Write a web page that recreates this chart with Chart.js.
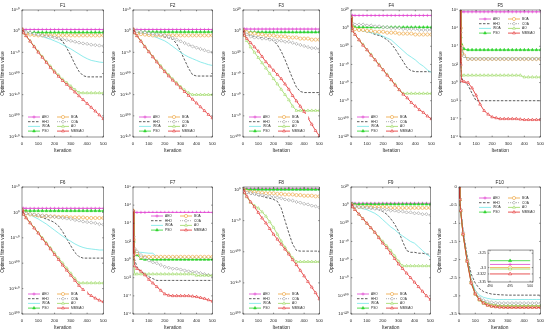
<!DOCTYPE html>
<html>
<head>
<meta charset="utf-8">
<script src="https://cdn.jsdelivr.net/npm/chart.js@4.4.0/dist/chart.umd.min.js"></script>
<style>
  body { margin: 0; background: #fff; width: 550px; height: 334px; position: relative; overflow: hidden; }
  canvas { position: absolute; }
</style>
</head>
<body>
<script>
// iterations sampled from the curves
const ITER = [0, 5, 10, 25, 50, 75, 100, 125, 150, 175, 200, 225, 250, 275, 300, 325, 350, 375, 400, 425, 450, 475, 500];
const X_TICKS = [0, 100, 200, 300, 400, 500];
const ALGOS = ['AEO', 'HHO', 'WOA', 'PSO', 'BOA', 'COA', 'AO', 'MMSIAO'];

// log10 of best fitness, per function and algorithm
const F1_AEO = [4,4,4,4,4,4,4,4,4,4,4,4,4,4,4,4,4,4,4,4,4,4,4];
const F1_HHO = [4,2,0,-3,-5,-6,-8,-10,-11,-13,-15,-17,-24,-40,-58,-78,-95,-105,-108,-108,-108,-108,-108];
const F1_WOA = [4,2,0,-2,-4,-7,-10,-13,-16,-19,-23,-27,-32,-37,-42,-48,-54,-60,-65,-69,-71,-73,-74];
const F1_PSO = [4,0,-2,-3,-3,-3,-3,-3,-3,-3,-3,-3,-3,-3,-3,-3,-3,-3,-3,-3,-3,-3,-3];
const F1_BOA = [4,0,-3,-6,-8,-9,-10,-10,-10,-10,-10,-10,-10,-10,-10,-10,-10,-10,-10,-10,-10,-10,-10];
const F1_COA = [4,1,0,-2,-4,-6,-8,-10,-12,-13,-15,-17,-19,-21,-23,-25,-27,-29,-30,-32,-33,-34,-35];
const F1_AO = [4,-1,-4,-11,-23,-36,-48,-60,-72,-83,-94,-104,-114,-122,-130,-138,-145,-146,-146,-146,-146,-146,-146];
const F1_MMSIAO = [4,-1,-4,-11,-24,-37,-50,-62,-74,-86,-97,-107,-117,-126,-135,-144,-153,-162,-171,-180,-189,-198,-207];

const F2_AEO = [4,4,4,4,4,4,4,4,4,4,4,4,4,4,4,4,4,4,4,4,4,4,4];
const F2_HHO = [4,1,-1,-3,-5,-6,-8,-9,-10,-12,-14,-16,-19,-30,-48,-68,-88,-103,-106,-106,-106,-106,-106];
const F2_WOA = [4,1,-1,-3,-5,-7,-9,-12,-15,-19,-23,-29,-36,-43,-50,-56,-61,-65,-69,-73,-76,-79,-81];
const F2_PSO = [4,0,-1,-2,-2,-2,-2,-2,-2,-2,-2,-2,-2,-2,-2,-2,-2,-2,-2,-2,-2,-2,-2];
const F2_BOA = [4,0,-3,-5,-7,-8,-9,-10,-10,-10,-10,-10,-10,-10,-10,-10,-10,-10,-10,-10,-10,-10,-10];
const F2_COA = [4,2,1,0,-2,-3,-5,-6,-7,-8,-10,-13,-16,-20,-24,-28,-32,-36,-39,-42,-45,-48,-50];
const F2_AO = [4,-1,-4,-11,-23,-36,-48,-60,-71,-82,-93,-103,-113,-122,-131,-139,-146,-150,-150,-150,-150,-150,-150];
const F2_MMSIAO = [4,-1,-4,-11,-24,-37,-49,-61,-73,-85,-96,-106,-116,-125,-134,-143,-152,-161,-170,-179,-188,-197,-205];

const F3_AEO = [1,2,2,2,2,2,2,2,2,2,2,2,2,2,2,2,2,2,2,2,2,2,2];
const F3_HHO = [1,-1,-2,-3,-4,-5,-6,-6,-7,-7,-9,-13,-19,-27,-36,-45,-53,-57,-58,-58,-58,-58,-58];
const F3_WOA = [1,-1,-1,-1,-1,-1,-1,-1,-1,-1,-1,-1,-1,-1,-1,-1,-1,-1,-1,-1,-1,-1,-1];
const F3_PSO = [1,-1,-1,-1,-1,-1,-1,-1,-1,-1,-1,-1,-1,-1,-1,-1,-1,-1,-1,-1,-1,-1,-1];
const F3_BOA = [1,0,-1,-1,-2,-2,-3,-3,-4,-4,-4,-5,-5,-5,-6,-6,-6,-7,-7,-7,-8,-8,-8];
const F3_COA = [1,-1,-2,-3,-5,-6,-6,-7,-7,-8,-8,-9,-9,-10,-10,-11,-12,-13,-14,-15,-16,-16,-17];
const F3_AO = [1,-2,-4,-9,-15,-20,-25,-30,-35,-40,-45,-50,-55,-60,-65,-71,-75,-75,-75,-75,-75,-75,-75];
const F3_MMSIAO = [1,-2,-4,-7,-11,-15,-19,-24,-29,-33,-37,-41,-45,-50,-55,-61,-66,-71,-76,-82,-88,-94,-99];

const F4_AEO = [13,14,14,14,14,14,14,14,14,14,14,14,14,14,14,14,14,14,14,14,14,14,14];
const F4_HHO = [12,3,1,-1,-2,-3,-4,-5,-7,-8,-10,-13,-17,-23,-30,-37,-44,-47,-48,-48,-48,-48,-48];
const F4_WOA = [12,3,1,-1,-2,-3,-4,-5,-6,-7,-9,-11,-13,-17,-21,-25,-29,-32,-35,-39,-42,-46,-49];
const F4_PSO = [12,3,2,1,1,1,1,1,1,1,1,1,1,1,1,1,1,1,1,1,1,1,1];
const F4_BOA = [12,2,0,-1,-2,-2,-3,-3,-4,-4,-4,-5,-5,-5,-6,-6,-6,-6,-7,-7,-7,-7,-7];
const F4_COA = [12,5,5,4,4,4,3,3,2,2,1,1,0,0,0,-1,-1,-1,-1,-2,-2,-2,-2];
const F4_AO = [12,0,-3,-7,-13,-18,-24,-29,-35,-40,-46,-51,-57,-62,-68,-72,-72,-72,-72,-72,-72,-72,-72];
const F4_MMSIAO = [12,0,-3,-7,-13,-19,-24,-30,-35,-41,-46,-52,-57,-63,-68,-73,-77,-82,-86,-90,-93,-97,-100];

const F5_AEO = [8,7.8,7.8,7.8,7.8,7.8,7.8,7.8,7.8,7.8,7.8,7.8,7.8,7.8,7.8,7.8,7.8,7.8,7.8,7.8,7.8,7.8,7.8];
const F5_HHO = [8,3,0.5,0.1,-0.3,-1.2,-2,-2,-2,-2,-2,-2,-2,-2,-2,-2,-2,-2,-2,-2,-2,-2,-2];
const F5_WOA = [8,5,3.8,2.8,2.7,2.7,2.7,2.7,2.7,2.7,2.7,2.7,2.7,2.7,2.7,2.7,2.7,2.7,2.7,2.7,2.7,2.7,2.7];
const F5_PSO = [8,5,4.2,3.7,3.6,3.6,3.6,3.6,3.6,3.6,3.6,3.6,3.6,3.6,3.6,3.6,3.6,3.6,3.6,3.6,3.6,3.6,3.6];
const F5_BOA = [8,6,4,3,2.6,2.6,2.6,2.6,2.6,2.6,2.6,2.6,2.6,2.6,2.6,2.6,2.6,2.6,2.6,2.6,2.6,2.6,2.6];
const F5_COA = [8,5.5,3.8,2.9,2.6,2.6,2.6,2.6,2.6,2.6,2.6,2.6,2.6,2.6,2.6,2.6,2.6,2.6,2.6,2.6,2.6,2.6,2.6];
const F5_AO = [8,3,0.8,0.8,0.8,0.8,0.8,0.8,0.8,0.8,0.8,0.8,0.8,0.8,0.8,0.8,0.8,0.8,0.6,0.6,0.6,0.6,0.6];
const F5_MMSIAO = [8,2,0.2,0.1,0,-0.6,-1.4,-2.4,-3.1,-3.5,-3.8,-3.9,-4,-4,-4,-4,-4,-4.05,-4.1,-4.1,-4.1,-4.1,-4.1];

const F6_AEO = [5,8,8,8,8,8,8,8,8,8,8,8,8,8,8,8,8,8,8,8,8,8,8];
const F6_HHO = [5,2,0,-2,-4,-6,-8,-10,-13,-16,-20,-27,-38,-52,-66,-79,-87,-90,-90,-90,-90,-90,-90];
const F6_WOA = [5,2,0,-2,-5,-9,-13,-18,-23,-29,-35,-41,-47,-52,-57,-62,-66,-69,-71,-72,-73,-74,-74];
const F6_PSO = [5,3,3,3,3,3,3,3,3,3,3,3,3,3,3,3,3,3,3,3,3,3,3];
const F6_BOA = [5,2,0,-2,-4,-5,-6,-7,-7,-8,-8,-9,-9,-9,-10,-10,-10,-10,-11,-11,-11,-11,-11];
const F6_COA = [5,2,0,-2,-3,-4,-5,-6,-7,-8,-9,-10,-11,-12,-13,-15,-16,-18,-19,-20,-21,-23,-24];
const F6_AO = [5,-1,-4,-10,-20,-30,-40,-50,-60,-70,-80,-90,-100,-110,-120,-130,-139,-139,-139,-139,-139,-139,-139];
const F6_MMSIAO = [5,-1,-4,-11,-21,-31,-41,-52,-62,-72,-83,-93,-104,-114,-124,-134,-144,-152,-159,-164,-169,-173,-176];

const F7_AEO = [5.4,5.2,5.2,5.2,5.2,5.2,5.2,5.2,5.2,5.2,5.2,5.2,5.2,5.2,5.2,5.2,5.2,5.2,5.2,5.2,5.2,5.2,5.2];
const F7_HHO = [5.4,1.5,0,-0.8,-1.3,-1.6,-1.9,-2.1,-2.3,-2.3,-2.3,-2.3,-2.3,-2.3,-2.3,-2.3,-2.3,-2.3,-2.3,-2.3,-2.3,-2.3,-2.3];
const F7_WOA = [5.4,2.5,1.2,0.8,0.8,0.75,0.7,0.7,0.3,0.2,0.2,0.2,0.2,0.2,0.2,0.2,0.2,0.2,0.2,0.2,0.2,0.2,0.2];
const F7_PSO = [5.4,2,1,0.5,0.1,0,0,0,0,0,0,0,0,0,0,0,0,0,0,0,0,0,0];
const F7_BOA = [5.4,2.2,1.1,0.7,0.3,0.3,0.3,0.3,0.3,0.3,0.3,0.3,0.3,0.3,0.3,0.3,0.3,0.3,0.3,0.3,0.3,0.3,0.3];
const F7_COA = [5.4,2.5,1.2,0.9,0.5,0.2,-0.1,-0.3,-0.4,-0.6,-0.8,-0.9,-1,-1,-1.1,-1.2,-1.3,-1.35,-1.4,-1.5,-1.6,-1.7,-1.75];
const F7_AO = [5.4,0,-1.6,-1.6,-1.6,-1.6,-1.6,-1.6,-1.6,-1.6,-1.6,-1.6,-1.6,-1.6,-1.6,-1.6,-1.6,-1.6,-1.75,-1.75,-1.75,-1.75,-1.75];
const F7_MMSIAO = [5.4,0.5,-0.7,-1,-1.3,-1.7,-2.2,-2.6,-3,-3.4,-3.8,-3.95,-4,-4,-4,-4,-4,-4.05,-4.1,-4.2,-4.3,-4.45,-4.6];

const F8_AEO = [0,1,1,1,1,1,1,1,1,1,1,1,1,1,1,1,1,1,1,1,1,1,1];
const F8_HHO = [0,-2,-3,-5,-7,-8,-10,-11,-13,-14,-16,-19,-30,-50,-70,-88,-98,-99,-99,-99,-99,-99,-99];
const F8_WOA = [0,-0.5,-0.5,-0.5,-0.5,-0.5,-0.5,-0.5,-0.5,-0.5,-0.5,-0.5,-0.5,-0.5,-0.5,-0.5,-0.5,-0.5,-0.5,-0.5,-0.5,-0.5,-0.5];
const F8_PSO = [0,0,0,0,0,0,0,0,0,0,0,0,0,0,0,0,0,0,0,0,0,0,0];
const F8_BOA = [0,-1,-2,-3,-4,-4,-5,-5,-6,-6,-6,-7,-7,-8,-8,-8,-9,-9,-10,-10,-10,-11,-11];
const F8_COA = [0,-2,-3,-5,-6,-7,-8,-9,-10,-11,-12,-13,-14,-16,-17,-18,-20,-21,-23,-24,-26,-27,-29];
const F8_AO = [0,-3,-6,-12,-21,-26,-30,-36,-43,-52,-61,-72,-83,-93,-102,-110,-116,-116,-116,-116,-116,-116,-116];
const F8_MMSIAO = [0,-3,-5,-11,-20,-28,-37,-46,-54,-63,-72,-80,-88,-96,-104,-113,-121,-130,-139,-148,-157,-166,-176];

const F9_AEO = [1,2,2,2,2,2,2,2,2,2,2,2,2,2,2,2,2,2,2,2,2,2,2];
const F9_HHO = [1,0,-1,-1,-2,-2,-3,-4,-4,-5,-7,-10,-15,-21,-29,-40,-50,-52,-52,-53,-53,-54,-54];
const F9_WOA = [1,0,-1,-2,-3,-4,-5,-7,-9,-12,-16,-20,-24,-27,-31,-34,-37,-40,-42,-46,-50,-54,-57];
const F9_PSO = [1,1,1,1,1,1,1,1,1,1,1,1,1,1,1,1,1,1,1,1,1,1,1];
const F9_BOA = [1,0,-1,-1,-2,-2,-2,-2,-2,-2,-2,-2,-3,-3,-3,-3,-3,-3,-3,-3,-3,-3,-3];
const F9_COA = [1,0,-1,-1,-2,-2,-3,-3,-4,-4,-5,-5,-6,-6,-7,-7,-8,-8,-9,-9,-10,-10,-11];
const F9_AO = [1,-1,-2,-5,-10,-15,-20,-25,-30,-35,-40,-45,-50,-56,-62,-67,-67,-67,-67,-67,-67,-67,-67];
const F9_MMSIAO = [1,-1,-2,-5,-10,-15,-20,-25,-30,-36,-42,-47,-53,-59,-65,-70,-75,-80,-85,-90,-95,-100,-104];

// F10 is plotted on a linear axis
const F10_AEO = [0,-0.33,-0.63,-1.28,-2.02,-2.62,-2.93,-3.1,-3.18,-3.23,-3.26,-3.27,-3.28,-3.285,-3.289,-3.289,-3.289,-3.289,-3.289,-3.289,-3.289,-3.289,-3.289];
const F10_HHO = [0,-0.3,-0.6,-1.2,-1.9,-2.4,-2.65,-2.8,-2.88,-2.92,-2.95,-2.96,-2.97,-2.975,-2.98,-2.98,-2.98,-2.98,-2.98,-2.98,-2.98,-2.98,-2.98];
const F10_WOA = [0,-0.3,-0.6,-1.25,-2,-2.55,-2.85,-2.98,-3.04,-3.07,-3.09,-3.1,-3.1,-3.1,-3.1,-3.1,-3.1,-3.1,-3.1,-3.1,-3.1,-3.1,-3.1];
const F10_PSO = [0,-0.35,-0.66,-1.3,-2,-2.6,-2.92,-3.08,-3.16,-3.21,-3.24,-3.26,-3.27,-3.275,-3.276,-3.276,-3.276,-3.276,-3.276,-3.276,-3.276,-3.276,-3.276];
const F10_BOA = [0,-0.34,-0.64,-1.3,-2.03,-2.63,-2.94,-3.1,-3.19,-3.24,-3.27,-3.285,-3.293,-3.298,-3.3,-3.3,-3.3,-3.3,-3.3,-3.3,-3.3,-3.3,-3.3];
const F10_COA = [0,-0.32,-0.62,-1.25,-2,-2.6,-2.9,-3.05,-3.12,-3.16,-3.18,-3.19,-3.2,-3.2,-3.2,-3.2,-3.2,-3.2,-3.2,-3.2,-3.2,-3.2,-3.2];
const F10_AO = [0,-0.36,-0.67,-1.32,-2.05,-2.65,-2.96,-3.12,-3.21,-3.26,-3.285,-3.297,-3.303,-3.305,-3.305,-3.305,-3.305,-3.305,-3.305,-3.305,-3.305,-3.305,-3.305];
const F10_MMSIAO = [0,-0.35,-0.65,-1.3,-2.05,-2.65,-2.95,-3.1,-3.2,-3.26,-3.29,-3.305,-3.315,-3.32,-3.322,-3.322,-3.322,-3.322,-3.322,-3.322,-3.322,-3.322,-3.322];

// zoomed inset of F10 (last iterations)
const ZOOM_ITER = [490, 495, 500];
const ZOOM_AEO = [-3.289, -3.289, -3.289];
const ZOOM_PSO = [-3.276, -3.276, -3.276];
const ZOOM_BOA = [-3.3, -3.3, -3.3];
const ZOOM_AO = [-3.305, -3.305, -3.305];
const ZOOM_MMSIAO = [-3.322, -3.322, -3.322];
const ZOOM_X_TICKS = [490, 495, 500];
const ZOOM_Y_TICKS = [-3.25, -3.3, -3.322, -3.35];

// y tick values (exponents for log panels)
const F1_YTICKS = [50, 0, -50, -100, -150, -200, -250];
const F3_YTICKS = [20, 0, -20, -40, -60, -80, -100];
const F4_YTICKS = [20, 0, -20, -40, -60, -80, -100, -120];
const F5_YTICKS = [8, 6, 4, 2, 0, -2, -4, -6];
const F6_YTICKS = [50, 0, -50, -100, -150, -200];
const F7_YTICKS = [8, 6, 4, 2, 0, -2, -4, -6];
const F8_YTICKS = [0, -50, -100, -150, -200];
const F9_YTICKS = [20, 0, -20, -40, -60, -80, -100, -120];
const F10_YTICKS = [0, -0.5, -1, -1.5, -2, -2.5, -3, -3.5];

const FONT = "'Liberation Sans', Arial, sans-serif";
const INK = '#262626';

const STYLES = [
    { color: '#e040d0', point: 'cross', fill: false },
    { color: '#333333', point: null, dash: [2.5, 1.5] },
    { color: '#72e6e6', point: null },
    { color: '#2dd42d', point: 'triangle', fill: true },
    { color: '#eda23a', point: 'circle', fill: false },
    { color: '#9a9a9a', point: 'rectRot', fill: false, dash: [1, 1] },
    { color: '#9ad860', point: 'triangle', fill: false },
    { color: '#e22a2a', point: 'triangle', fill: false }
];

const PANELS = [
    { title: 'F1', series: [F1_AEO, F1_HHO, F1_WOA, F1_PSO, F1_BOA, F1_COA, F1_AO, F1_MMSIAO], yMin: -250, yMax: 50, yTicks: F1_YTICKS, log: true, box: [22, 10, 106, 137], legend: 'bottom' },
    { title: 'F2', series: [F2_AEO, F2_HHO, F2_WOA, F2_PSO, F2_BOA, F2_COA, F2_AO, F2_MMSIAO], yMin: -250, yMax: 50, yTicks: F1_YTICKS, log: true, box: [133, 10, 215, 137], legend: 'bottom' },
    { title: 'F3', series: [F3_AEO, F3_HHO, F3_WOA, F3_PSO, F3_BOA, F3_COA, F3_AO, F3_MMSIAO], yMin: -100, yMax: 20, yTicks: F3_YTICKS, log: true, box: [243, 10, 322, 137], legend: 'bottom' },
    { title: 'F4', series: [F4_AEO, F4_HHO, F4_WOA, F4_PSO, F4_BOA, F4_COA, F4_AO, F4_MMSIAO], yMin: -120, yMax: 20, yTicks: F4_YTICKS, log: true, box: [351, 10, 434, 137], legend: 'bottom' },
    { title: 'F5', series: [F5_AEO, F5_HHO, F5_WOA, F5_PSO, F5_BOA, F5_COA, F5_AO, F5_MMSIAO], yMin: -6, yMax: 8, yTicks: F5_YTICKS, log: true, box: [460, 10, 543, 137], legend: [19, 9] },
    { title: 'F6', series: [F6_AEO, F6_HHO, F6_WOA, F6_PSO, F6_BOA, F6_COA, F6_AO, F6_MMSIAO], yMin: -200, yMax: 50, yTicks: F6_YTICKS, log: true, box: [22, 187, 106, 314], legend: 'bottom' },
    { title: 'F7', series: [F7_AEO, F7_HHO, F7_WOA, F7_PSO, F7_BOA, F7_COA, F7_AO, F7_MMSIAO], yMin: -6, yMax: 8, yTicks: F7_YTICKS, log: true, box: [133, 187, 215, 314], legend: [18, 29] },
    { title: 'F8', series: [F8_AEO, F8_HHO, F8_WOA, F8_PSO, F8_BOA, F8_COA, F8_AO, F8_MMSIAO], yMin: -200, yMax: 4, yTicks: F8_YTICKS, log: true, box: [243, 187, 322, 314], legend: 'bottom' },
    { title: 'F9', series: [F9_AEO, F9_HHO, F9_WOA, F9_PSO, F9_BOA, F9_COA, F9_AO, F9_MMSIAO], yMin: -120, yMax: 20, yTicks: F9_YTICKS, log: true, box: [351, 187, 433, 314], legend: 'bottom' },
    { title: 'F10', series: [F10_AEO, F10_HHO, F10_WOA, F10_PSO, F10_BOA, F10_COA, F10_AO, F10_MMSIAO], yMin: -3.5, yMax: 0, yTicks: F10_YTICKS, log: false, box: [459, 187, 543, 314], legend: [20, 11] }
];

const SUP = { '0': '⁰', '1': '¹', '2': '²', '3': '³', '4': '⁴', '5': '⁵', '6': '⁶', '7': '⁷', '8': '⁸', '9': '⁹', '-': '⁻' };
function sup(v) {
    return String(v).split('').map(ch => SUP[ch] || ch).join('');
}

function marker(ctx, st, x, y) {
    if (!st.point) return;
    ctx.save();
    ctx.strokeStyle = st.color;
    ctx.fillStyle = st.fill ? st.color : '#ffffff';
    ctx.lineWidth = 0.6;
    ctx.setLineDash([]);
    Chart.helpers.drawPoint(ctx, { pointStyle: st.point, radius: 1.6, rotation: 0, borderWidth: 0.6 }, x, y);
    ctx.restore();
}

function drawLegend(ctx, a, pos) {
    let lx, ly;
    if (pos === 'bottom') {
        lx = a.left + 6;
        ly = a.bottom - 20;
    } else {
        lx = a.left + pos[0];
        ly = a.top + pos[1];
    }
    ctx.fillStyle = '#ffffff';
    ctx.fillRect(lx - 3, ly - 3, 62, 4 * 4.7 + 1.5);
    ctx.font = '3.2px ' + FONT;
    ctx.textBaseline = 'middle';
    ctx.textAlign = 'left';
    ALGOS.forEach((name, i) => {
        const st = STYLES[i];
        const x = lx + Math.floor(i / 4) * 29;
        const y = ly + (i % 4) * 4.7;
        ctx.strokeStyle = st.color;
        ctx.lineWidth = 0.8;
        ctx.setLineDash(st.dash || []);
        ctx.beginPath();
        ctx.moveTo(x, y);
        ctx.lineTo(x + 12, y);
        ctx.stroke();
        ctx.setLineDash([]);
        marker(ctx, st, x + 6, y);
        ctx.fillStyle = INK;
        ctx.fillText(name, x + 14, y);
    });
}

const framePlugin = {
    id: 'frame',
    beforeDraw(chart, args, opts) {
        if (opts.bg) {
            const a = chart.chartArea;
            chart.ctx.save();
            chart.ctx.fillStyle = '#ffffff';
            chart.ctx.fillRect(a.left, a.top, a.right - a.left, a.bottom - a.top);
            chart.ctx.restore();
        }
    },
    afterDraw(chart, args, opts) {
        const ctx = chart.ctx;
        const a = chart.chartArea;
        const xs = chart.scales.x, ys = chart.scales.y;
        ctx.save();
        ctx.strokeStyle = INK;
        ctx.lineWidth = 0.5;
        ctx.setLineDash([]);
        ctx.strokeRect(a.left, a.top, a.right - a.left, a.bottom - a.top);
        ctx.beginPath();
        xs.ticks.forEach(t => {
            const px = xs.getPixelForValue(t.value);
            ctx.moveTo(px, a.bottom); ctx.lineTo(px, a.bottom - 1.3);
            ctx.moveTo(px, a.top); ctx.lineTo(px, a.top + 1.3);
        });
        ys.ticks.forEach(t => {
            const py = ys.getPixelForValue(t.value);
            ctx.moveTo(a.left, py); ctx.lineTo(a.left + 1.3, py);
            ctx.moveTo(a.right, py); ctx.lineTo(a.right - 1.3, py);
        });
        ctx.stroke();
        if (opts.title) {
            ctx.fillStyle = INK;
            ctx.font = '4.8px ' + FONT;
            ctx.textAlign = 'center';
            ctx.textBaseline = 'middle';
            ctx.fillText(opts.title, (a.left + a.right) / 2, a.top - 4.5);
        }
        if (opts.legend) drawLegend(ctx, a, opts.legend);
        ctx.restore();
    }
};

function makeDataset(vals, st, i, xs, radius) {
    return {
        label: ALGOS[i],
        data: xs.map((x, j) => ({ x: x, y: vals[j] })),
        borderColor: st.color,
        borderWidth: 0.8,
        borderDash: st.dash || [],
        pointStyle: st.point || 'circle',
        pointRadius: st.point ? radius : 0,
        pointBorderWidth: 0.6,
        pointBorderColor: st.color,
        pointBackgroundColor: st.fill ? st.color : '#ffffff',
        tension: 0,
        order: 8 - i
    };
}

function addCanvas(left, top, w, h) {
    const c = document.createElement('canvas');
    c.width = w; c.height = h;
    c.style.left = left + 'px'; c.style.top = top + 'px';
    c.style.width = w + 'px'; c.style.height = h + 'px';
    document.body.appendChild(c);
    return c;
}

function makePanel(p) {
    const [x0, y0, x1, y1] = p.box;
    const c = addCanvas(x0 - 22, y0 - 10, x1 - x0 + 27, y1 - y0 + 28);
    new Chart(c, {
        type: 'line',
        data: { datasets: p.series.map((vals, i) => makeDataset(vals, STYLES[i], i, ITER, 1.6)) },
        options: {
            responsive: false,
            animation: false,
            layout: { padding: { top: 10, right: 5, left: 0, bottom: 0 } },
            plugins: {
                legend: { display: false },
                tooltip: { enabled: false },
                frame: { title: p.title, legend: p.legend }
            },
            scales: {
                x: {
                    type: 'linear', min: 0, max: 500,
                    afterBuildTicks: s => { s.ticks = X_TICKS.map(v => ({ value: v })); },
                    afterFit: s => { s.height = 18; },
                    grid: { display: false, drawTicks: false },
                    border: { display: false },
                    ticks: { font: { family: FONT, size: 4.3 }, color: INK, padding: 4, maxRotation: 0, autoSkip: false },
                    title: { display: true, text: 'Iteration', font: { family: FONT, size: 4.8 }, color: INK, padding: { top: 0, bottom: 1 } }
                },
                y: {
                    type: 'linear', min: p.yMin, max: p.yMax,
                    afterBuildTicks: s => { s.ticks = p.yTicks.map(v => ({ value: v })); },
                    afterFit: s => { s.width = 22; },
                    grid: { display: false, drawTicks: false },
                    border: { display: false },
                    ticks: {
                        font: { family: FONT, size: 4.3 }, color: INK, padding: 2, autoSkip: false,
                        callback: v => p.log ? '10' + sup(v) : String(v)
                    },
                    title: { display: true, text: 'Optimal fitness value', font: { family: FONT, size: 4.8 }, color: INK, padding: 0 }
                }
            }
        },
        plugins: [framePlugin]
    });
}

function makeInset() {
    const box = [488, 249, 533, 282];
    const c = addCanvas(box[0] - 14, box[1] - 3, box[2] - box[0] + 18, box[3] - box[1] + 11);
    const zoom = [[ZOOM_AEO, 0], [ZOOM_PSO, 3], [ZOOM_BOA, 4], [ZOOM_AO, 6], [ZOOM_MMSIAO, 7]];
    new Chart(c, {
        type: 'line',
        data: {
            datasets: zoom.map(([vals, i]) => {
                const d = makeDataset(vals, STYLES[i], i, ZOOM_ITER, 1.6);
                d.pointRadius = STYLES[i].point ? [0, 1.8, 0] : 0;
                return d;
            })
        },
        options: {
            responsive: false,
            animation: false,
            layout: { padding: { top: 3, right: 4, left: 0, bottom: 0 } },
            plugins: { legend: { display: false }, tooltip: { enabled: false }, frame: { bg: true } },
            scales: {
                x: {
                    type: 'linear', min: 489.5, max: 500.7,
                    afterBuildTicks: s => { s.ticks = ZOOM_X_TICKS.map(v => ({ value: v })); },
                    afterFit: s => { s.height = 8; },
                    grid: { display: false, drawTicks: false },
                    border: { display: false },
                    ticks: { font: { family: FONT, size: 3.4 }, color: INK, padding: 2, maxRotation: 0, autoSkip: false }
                },
                y: {
                    type: 'linear', min: -3.35, max: -3.239,
                    afterBuildTicks: s => { s.ticks = ZOOM_Y_TICKS.map(v => ({ value: v })); },
                    afterFit: s => { s.width = 14; },
                    grid: { display: false, drawTicks: false },
                    border: { display: false },
                    ticks: { font: { family: FONT, size: 3.4 }, color: INK, padding: 2, autoSkip: false, callback: v => String(v) }
                }
            }
        },
        plugins: [framePlugin]
    });
}

PANELS.forEach(makePanel);
makeInset();
</script>
</body>
</html>
